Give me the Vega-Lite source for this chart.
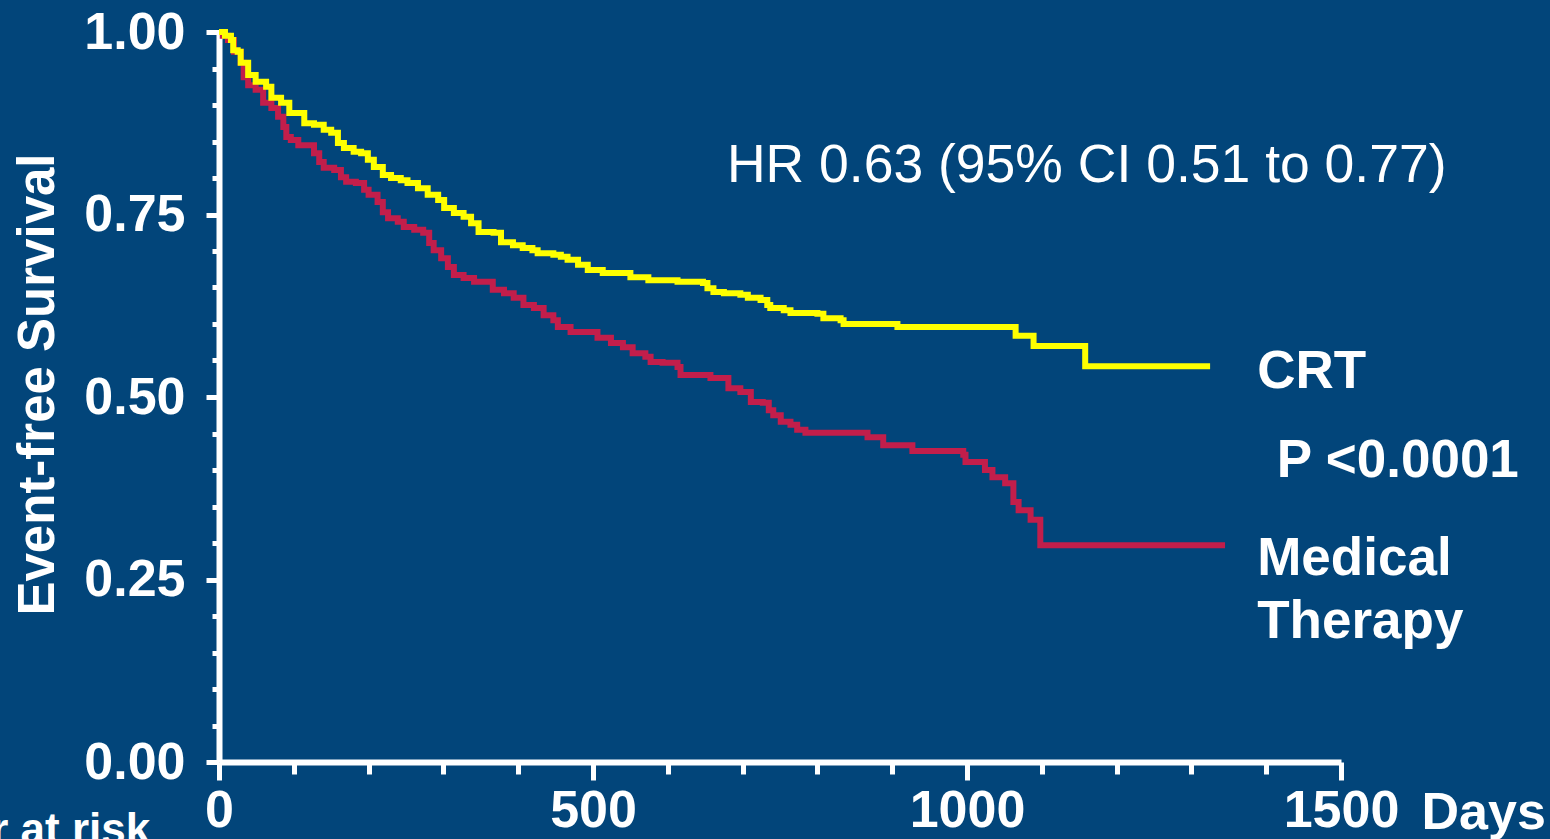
{
  "$schema": "https://vega.github.io/schema/vega-lite/v6.json",
  "width": 1122,
  "height": 730,
  "autosize": {"type": "none"},
  "padding": {"left": 219, "top": 32, "right": 209, "bottom": 77},
  "background": "#02457A",
  "config": {"view": {"stroke": null}, "font": "Liberation Sans", "axis": {"labelOverlap": false}},
  "datasets": {
    "km": [
      {"arm": "Medical Therapy", "day": 0, "survival": 1.0},
      {"arm": "Medical Therapy", "day": 5, "survival": 0.995},
      {"arm": "Medical Therapy", "day": 12, "survival": 0.989},
      {"arm": "Medical Therapy", "day": 20, "survival": 0.973},
      {"arm": "Medical Therapy", "day": 29, "survival": 0.958},
      {"arm": "Medical Therapy", "day": 33, "survival": 0.938},
      {"arm": "Medical Therapy", "day": 39, "survival": 0.927},
      {"arm": "Medical Therapy", "day": 49, "survival": 0.921},
      {"arm": "Medical Therapy", "day": 59, "survival": 0.903},
      {"arm": "Medical Therapy", "day": 70, "survival": 0.896},
      {"arm": "Medical Therapy", "day": 79, "survival": 0.884},
      {"arm": "Medical Therapy", "day": 86, "survival": 0.870},
      {"arm": "Medical Therapy", "day": 90, "survival": 0.856},
      {"arm": "Medical Therapy", "day": 96, "survival": 0.852},
      {"arm": "Medical Therapy", "day": 106, "survival": 0.845},
      {"arm": "Medical Therapy", "day": 127, "survival": 0.834},
      {"arm": "Medical Therapy", "day": 134, "survival": 0.822},
      {"arm": "Medical Therapy", "day": 140, "survival": 0.814},
      {"arm": "Medical Therapy", "day": 154, "survival": 0.811},
      {"arm": "Medical Therapy", "day": 163, "survival": 0.801},
      {"arm": "Medical Therapy", "day": 170, "survival": 0.795},
      {"arm": "Medical Therapy", "day": 183, "survival": 0.793},
      {"arm": "Medical Therapy", "day": 194, "survival": 0.784},
      {"arm": "Medical Therapy", "day": 200, "survival": 0.777},
      {"arm": "Medical Therapy", "day": 212, "survival": 0.767},
      {"arm": "Medical Therapy", "day": 219, "survival": 0.753},
      {"arm": "Medical Therapy", "day": 226, "survival": 0.745},
      {"arm": "Medical Therapy", "day": 239, "survival": 0.740},
      {"arm": "Medical Therapy", "day": 247, "survival": 0.733},
      {"arm": "Medical Therapy", "day": 261, "survival": 0.729},
      {"arm": "Medical Therapy", "day": 273, "survival": 0.725},
      {"arm": "Medical Therapy", "day": 281, "survival": 0.711},
      {"arm": "Medical Therapy", "day": 287, "survival": 0.701},
      {"arm": "Medical Therapy", "day": 297, "survival": 0.690},
      {"arm": "Medical Therapy", "day": 306, "survival": 0.678},
      {"arm": "Medical Therapy", "day": 314, "survival": 0.667},
      {"arm": "Medical Therapy", "day": 327, "survival": 0.663},
      {"arm": "Medical Therapy", "day": 341, "survival": 0.658},
      {"arm": "Medical Therapy", "day": 366, "survival": 0.647},
      {"arm": "Medical Therapy", "day": 381, "survival": 0.642},
      {"arm": "Medical Therapy", "day": 394, "survival": 0.636},
      {"arm": "Medical Therapy", "day": 407, "survival": 0.626},
      {"arm": "Medical Therapy", "day": 421, "survival": 0.622},
      {"arm": "Medical Therapy", "day": 434, "survival": 0.612},
      {"arm": "Medical Therapy", "day": 447, "survival": 0.605},
      {"arm": "Medical Therapy", "day": 453, "survival": 0.596},
      {"arm": "Medical Therapy", "day": 470, "survival": 0.589},
      {"arm": "Medical Therapy", "day": 506, "survival": 0.581},
      {"arm": "Medical Therapy", "day": 524, "survival": 0.574},
      {"arm": "Medical Therapy", "day": 540, "survival": 0.568},
      {"arm": "Medical Therapy", "day": 553, "survival": 0.560},
      {"arm": "Medical Therapy", "day": 570, "survival": 0.555},
      {"arm": "Medical Therapy", "day": 577, "survival": 0.548},
      {"arm": "Medical Therapy", "day": 593, "survival": 0.547},
      {"arm": "Medical Therapy", "day": 613, "survival": 0.541},
      {"arm": "Medical Therapy", "day": 617, "survival": 0.530},
      {"arm": "Medical Therapy", "day": 657, "survival": 0.526},
      {"arm": "Medical Therapy", "day": 681, "survival": 0.512},
      {"arm": "Medical Therapy", "day": 697, "survival": 0.507},
      {"arm": "Medical Therapy", "day": 711, "survival": 0.493},
      {"arm": "Medical Therapy", "day": 727, "survival": 0.492},
      {"arm": "Medical Therapy", "day": 735, "survival": 0.482},
      {"arm": "Medical Therapy", "day": 741, "survival": 0.475},
      {"arm": "Medical Therapy", "day": 751, "survival": 0.466},
      {"arm": "Medical Therapy", "day": 764, "survival": 0.462},
      {"arm": "Medical Therapy", "day": 773, "survival": 0.455},
      {"arm": "Medical Therapy", "day": 784, "survival": 0.451},
      {"arm": "Medical Therapy", "day": 867, "survival": 0.445},
      {"arm": "Medical Therapy", "day": 888, "survival": 0.434},
      {"arm": "Medical Therapy", "day": 927, "survival": 0.426},
      {"arm": "Medical Therapy", "day": 995, "survival": 0.421},
      {"arm": "Medical Therapy", "day": 998, "survival": 0.411},
      {"arm": "Medical Therapy", "day": 1024, "survival": 0.400},
      {"arm": "Medical Therapy", "day": 1034, "survival": 0.390},
      {"arm": "Medical Therapy", "day": 1051, "survival": 0.382},
      {"arm": "Medical Therapy", "day": 1062, "survival": 0.356},
      {"arm": "Medical Therapy", "day": 1069, "survival": 0.345},
      {"arm": "Medical Therapy", "day": 1085, "survival": 0.332},
      {"arm": "Medical Therapy", "day": 1098, "survival": 0.297},
      {"arm": "Medical Therapy", "day": 1345, "survival": 0.297},
      {"arm": "CRT", "day": 0, "survival": 1.0},
      {"arm": "CRT", "day": 8, "survival": 0.995},
      {"arm": "CRT", "day": 16, "survival": 0.989},
      {"arm": "CRT", "day": 19, "survival": 0.975},
      {"arm": "CRT", "day": 25, "survival": 0.973},
      {"arm": "CRT", "day": 29, "survival": 0.958},
      {"arm": "CRT", "day": 39, "survival": 0.941},
      {"arm": "CRT", "day": 49, "survival": 0.932},
      {"arm": "CRT", "day": 63, "survival": 0.925},
      {"arm": "CRT", "day": 70, "survival": 0.910},
      {"arm": "CRT", "day": 83, "survival": 0.903},
      {"arm": "CRT", "day": 94, "survival": 0.889},
      {"arm": "CRT", "day": 114, "survival": 0.875},
      {"arm": "CRT", "day": 127, "survival": 0.873},
      {"arm": "CRT", "day": 140, "survival": 0.866},
      {"arm": "CRT", "day": 150, "survival": 0.862},
      {"arm": "CRT", "day": 159, "survival": 0.848},
      {"arm": "CRT", "day": 167, "survival": 0.841},
      {"arm": "CRT", "day": 180, "survival": 0.836},
      {"arm": "CRT", "day": 190, "survival": 0.834},
      {"arm": "CRT", "day": 199, "survival": 0.825},
      {"arm": "CRT", "day": 207, "survival": 0.815},
      {"arm": "CRT", "day": 219, "survival": 0.804},
      {"arm": "CRT", "day": 230, "survival": 0.800},
      {"arm": "CRT", "day": 243, "survival": 0.797},
      {"arm": "CRT", "day": 252, "survival": 0.793},
      {"arm": "CRT", "day": 266, "survival": 0.786},
      {"arm": "CRT", "day": 279, "survival": 0.777},
      {"arm": "CRT", "day": 293, "survival": 0.770},
      {"arm": "CRT", "day": 301, "survival": 0.759},
      {"arm": "CRT", "day": 314, "survival": 0.752},
      {"arm": "CRT", "day": 327, "survival": 0.747},
      {"arm": "CRT", "day": 337, "survival": 0.738},
      {"arm": "CRT", "day": 347, "survival": 0.726},
      {"arm": "CRT", "day": 367, "survival": 0.725},
      {"arm": "CRT", "day": 377, "survival": 0.712},
      {"arm": "CRT", "day": 393, "survival": 0.708},
      {"arm": "CRT", "day": 406, "survival": 0.704},
      {"arm": "CRT", "day": 419, "survival": 0.701},
      {"arm": "CRT", "day": 426, "survival": 0.697},
      {"arm": "CRT", "day": 447, "survival": 0.695},
      {"arm": "CRT", "day": 457, "survival": 0.692},
      {"arm": "CRT", "day": 466, "survival": 0.688},
      {"arm": "CRT", "day": 480, "survival": 0.681},
      {"arm": "CRT", "day": 493, "survival": 0.674},
      {"arm": "CRT", "day": 513, "survival": 0.670},
      {"arm": "CRT", "day": 550, "survival": 0.664},
      {"arm": "CRT", "day": 574, "survival": 0.660},
      {"arm": "CRT", "day": 613, "survival": 0.658},
      {"arm": "CRT", "day": 647, "survival": 0.656},
      {"arm": "CRT", "day": 653, "survival": 0.649},
      {"arm": "CRT", "day": 661, "survival": 0.644},
      {"arm": "CRT", "day": 675, "survival": 0.642},
      {"arm": "CRT", "day": 697, "survival": 0.640},
      {"arm": "CRT", "day": 707, "survival": 0.636},
      {"arm": "CRT", "day": 724, "survival": 0.633},
      {"arm": "CRT", "day": 733, "survival": 0.626},
      {"arm": "CRT", "day": 737, "survival": 0.622},
      {"arm": "CRT", "day": 755, "survival": 0.619},
      {"arm": "CRT", "day": 764, "survival": 0.615},
      {"arm": "CRT", "day": 800, "survival": 0.614},
      {"arm": "CRT", "day": 808, "survival": 0.608},
      {"arm": "CRT", "day": 831, "survival": 0.605},
      {"arm": "CRT", "day": 835, "survival": 0.600},
      {"arm": "CRT", "day": 907, "survival": 0.596},
      {"arm": "CRT", "day": 1065, "survival": 0.584},
      {"arm": "CRT", "day": 1089, "survival": 0.570},
      {"arm": "CRT", "day": 1158, "survival": 0.542},
      {"arm": "CRT", "day": 1325, "survival": 0.542}
    ],
    "hr": [
      {"day": 679, "survival": 0.795, "text": "HR 0.63 (95% CI 0.51 to 0.77)"}
    ],
    "labels": [
      {"day": 1388, "survival": 0.513, "text": "CRT"},
      {"day": 1414, "survival": 0.390, "text": "P <0.0001"},
      {"day": 1388, "survival": 0.256, "text": "Medical"},
      {"day": 1388, "survival": 0.170, "text": "Therapy"}
    ],
    "risk": [
      {"day": -92, "survival": -0.113, "text": "Number at risk"}
    ]
  },
  "layer": [
    {
      "data": {"name": "km"},
      "mark": {"type": "line", "interpolate": "step-after", "strokeWidth": 6},
      "encoding": {
        "x": {
          "field": "day", "type": "quantitative",
          "scale": {"domain": [0, 1500], "nice": false, "zero": false},
          "axis": {
            "values": [0, 100, 200, 300, 400, 500, 600, 700, 800, 900, 1000, 1100, 1200, 1300, 1400, 1500],
            "tickCount": 40,
            "format": "d",
            "labelExpr": "indexof([0, 500, 1000, 1500], datum.value) >= 0 ? datum.label : ''",
            "grid": false,
            "domainColor": "#FFFFFF", "domainWidth": 6,
            "tickColor": "#FFFFFF", "tickWidth": 5,
            "tickSize": {"condition": {"test": "indexof([0, 500, 1000, 1500], datum.value) >= 0", "value": 18}, "value": 12},
            "labelFontSize": 52, "labelFontWeight": "bold", "labelColor": "#FFFFFF",
            "labelFont": "Liberation Sans",
            "labelPadding": 5, "labelFlush": false, "labelOverlap": false, "labelBound": false,
            "title": "Days", "titleColor": "#FFFFFF", "titleFontSize": 52, "titleFontWeight": "bold",
            "titleFont": "Liberation Sans",
            "titleAlign": "left", "titleAnchor": null, "titleX": 1202, "titleY": 66, "titleBaseline": "alphabetic"
          }
        },
        "y": {
          "field": "survival", "type": "quantitative",
          "scale": {"domain": [0, 1], "nice": false},
          "axis": {
            "values": [0, 0.05, 0.1, 0.15, 0.2, 0.25, 0.3, 0.35, 0.4, 0.45, 0.5, 0.55, 0.6, 0.65, 0.7, 0.75, 0.8, 0.85, 0.9, 0.95, 1],
            "tickCount": 40,
            "labelExpr": "indexof([0, 0.25, 0.5, 0.75, 1], datum.value) >= 0 ? format(datum.value, '.2f') : ''",
            "grid": false,
            "domainColor": "#FFFFFF", "domainWidth": 6,
            "tickColor": "#FFFFFF", "tickWidth": 5,
            "tickSize": {"condition": {"test": "indexof([0, 0.25, 0.5, 0.75, 1], datum.value) >= 0", "value": 13}, "value": 7},
            "labelFontSize": {"condition": {"test": "indexof([0, 0.25, 0.5, 0.75, 1], datum.value) >= 0", "value": 52}, "value": 1},
            "labelFontWeight": "bold", "labelColor": "#FFFFFF",
            "labelFont": "Liberation Sans",
            "labelPadding": 21, "labelOverlap": false, "labelBound": false, "labelFlush": false,
            "title": "Event-free Survival", "titleColor": "#FFFFFF", "titleFontSize": 51, "titleFontWeight": "bold",
            "titleFont": "Liberation Sans",
            "titleAngle": -90, "titleAlign": "center", "titleAnchor": null,
            "titleX": -166, "titleY": 352, "titleBaseline": "alphabetic"
          }
        },
        "color": {
          "field": "arm", "type": "nominal",
          "scale": {"domain": ["Medical Therapy", "CRT"], "range": ["#C21E4B", "#FFFF00"]},
          "legend": null
        }
      }
    },
    {
      "data": {"name": "hr"},
      "mark": {"type": "text", "align": "left", "baseline": "alphabetic", "fontSize": 53.5, "fontWeight": "normal", "font": "Liberation Sans", "color": "#FFFFFF"},
      "encoding": {
        "x": {"field": "day", "type": "quantitative"},
        "y": {"field": "survival", "type": "quantitative"},
        "text": {"field": "text"}
      }
    },
    {
      "data": {"name": "labels"},
      "mark": {"type": "text", "align": "left", "baseline": "alphabetic", "fontSize": 53, "fontWeight": "bold", "font": "Liberation Sans", "color": "#FFFFFF"},
      "encoding": {
        "x": {"field": "day", "type": "quantitative"},
        "y": {"field": "survival", "type": "quantitative"},
        "text": {"field": "text"}
      }
    },
    {
      "data": {"name": "risk"},
      "mark": {"type": "text", "align": "right", "baseline": "alphabetic", "fontSize": 44, "fontWeight": "bold", "font": "Liberation Sans", "color": "#FFFFFF"},
      "encoding": {
        "x": {"field": "day", "type": "quantitative"},
        "y": {"field": "survival", "type": "quantitative"},
        "text": {"field": "text"}
      }
    }
  ]
}
